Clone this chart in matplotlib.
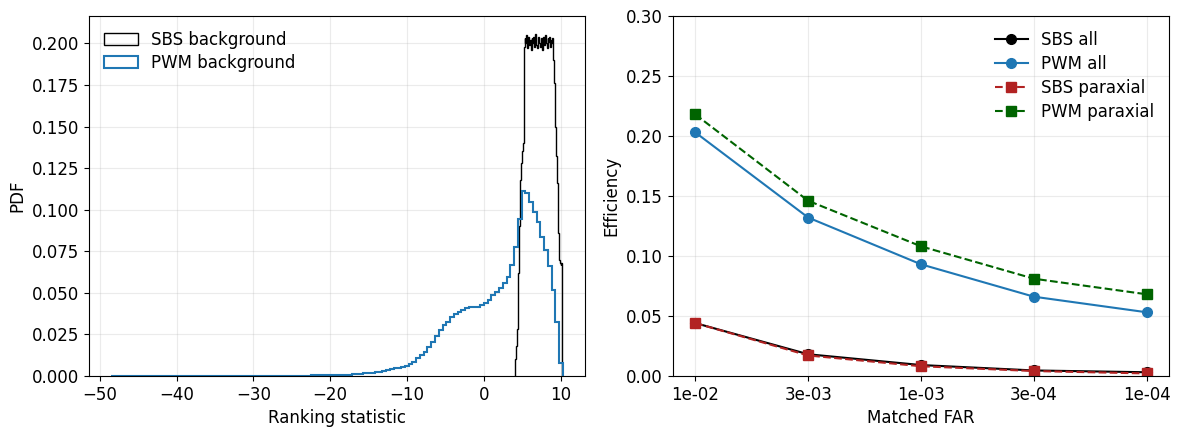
import matplotlib
matplotlib.use("Agg")
import matplotlib.pyplot as plt
import numpy as np

plt.rcParams["font.size"] = 12

# Left panel: background ranking-statistic histograms (bin heights)
pwm_lo, pwm_hi = -48.5, 10.3
pwm_pdf = [
    0.00001, 0.00001, 0.00001, 0.00001, 0.00001, 0.00001, 0.00001, 0.00001, 0.00001, 0.00001,
    0.00002, 0.00002, 0.00002, 0.00002, 0.00002, 0.00002, 0.00002, 0.00003, 0.00003, 0.00003,
    0.00003, 0.00003, 0.00003, 0.00004, 0.00004, 0.00004, 0.00004, 0.00004, 0.00005, 0.00005,
    0.00005, 0.00005, 0.00005, 0.00005, 0.00005, 0.00005, 0.00005, 0.00005, 0.00005, 0.00005,
    0.00006, 0.00006, 0.00007, 0.00007, 0.00008, 0.00008, 0.00009, 0.00010, 0.00011, 0.00012,
    0.00014, 0.00016, 0.00018, 0.00021, 0.00024, 0.00027, 0.00030, 0.00035, 0.00040, 0.00045,
    0.0005, 0.0006, 0.0007, 0.0008, 0.0009, 0.0011, 0.0013, 0.0015, 0.0017, 0.0020,
    0.0023, 0.0026, 0.0030, 0.0034, 0.0039, 0.0045, 0.0050, 0.0056, 0.0062, 0.0070,
    0.0086, 0.0106, 0.0126, 0.0146, 0.0176, 0.0206, 0.0237, 0.0273, 0.0307, 0.0327,
    0.0357, 0.0373, 0.0383, 0.0397, 0.0407, 0.0413, 0.0413, 0.0417, 0.0427, 0.0437,
    0.0457, 0.0487, 0.0507, 0.0527, 0.0557, 0.0597, 0.0668, 0.0778, 0.0942, 0.1115,
    0.1100, 0.1049, 0.0988, 0.0928, 0.0838, 0.0758, 0.0658, 0.0517, 0.0321, 0.0080,
]

sbs_lo, sbs_hi = 4.0, 10.2
sbs_pdf = [
    0.004, 0.010, 0.018, 0.028, 0.042, 0.062, 0.090, 0.118, 0.128, 0.132, 0.135, 0.140,
    0.198, 0.203, 0.200, 0.205, 0.197, 0.201, 0.204, 0.199, 0.202, 0.196,
    0.203, 0.200, 0.204, 0.198, 0.201, 0.206, 0.199, 0.197, 0.202, 0.204,
    0.200, 0.198, 0.203, 0.201, 0.196, 0.204, 0.199, 0.202, 0.205, 0.200,
    0.197, 0.203, 0.201, 0.204, 0.198, 0.202, 0.200, 0.203,
    0.190, 0.176, 0.162, 0.150, 0.132, 0.116, 0.100, 0.086, 0.070, 0.068, 0.067, 0.068,
]

# Right panel: efficiency vs matched false-alarm rate
far_labels = ["1e-02", "3e-03", "1e-03", "3e-04", "1e-04"]
sbs_all = [0.044, 0.018, 0.009, 0.0045, 0.003]
pwm_all = [0.203, 0.132, 0.093, 0.066, 0.053]
sbs_paraxial = [0.044, 0.017, 0.008, 0.004, 0.002]
pwm_paraxial = [0.218, 0.146, 0.108, 0.081, 0.068]

fig = plt.figure(figsize=(11.81, 4.34), dpi=100)
ax1 = fig.add_axes([0.0756, 0.134, 0.4200, 0.829])
ax2 = fig.add_axes([0.5696, 0.134, 0.4205, 0.829])

sbs_edges = np.linspace(sbs_lo, sbs_hi, len(sbs_pdf) + 1)
pwm_edges = np.linspace(pwm_lo, pwm_hi, len(pwm_pdf) + 1)
ax1.hist(sbs_edges[:-1], bins=sbs_edges, weights=sbs_pdf, histtype="step",
         color="black", lw=1.0, label="SBS background")
ax1.hist(pwm_edges[:-1], bins=pwm_edges, weights=pwm_pdf, histtype="step",
         color="tab:blue", lw=1.5, label="PWM background")
ax1.set_xlim(-51.35, 13.2)
ax1.set_ylim(0, 0.2165)
ax1.set_xlabel("Ranking statistic")
ax1.set_ylabel("PDF")
ax1.grid(alpha=0.25)
ax1.legend(loc="upper left", frameon=False, labelspacing=0.3)

ax2.plot(far_labels, sbs_all, "o-", color="black", lw=1.5, ms=7, label="SBS all")
ax2.plot(far_labels, pwm_all, "o-", color="tab:blue", lw=1.5, ms=7, label="PWM all")
ax2.plot(far_labels, sbs_paraxial, "s--", color="firebrick", lw=1.5, ms=7, label="SBS paraxial")
ax2.plot(far_labels, pwm_paraxial, "s--", color="darkgreen", lw=1.5, ms=7, label="PWM paraxial")
ax2.set_ylim(0, 0.30)
ax2.set_xlabel("Matched FAR")
ax2.set_ylabel("Efficiency")
ax2.grid(alpha=0.25)
ax2.legend(loc="upper right", frameon=False, labelspacing=0.35)

fig.savefig("out.png", dpi=100)
